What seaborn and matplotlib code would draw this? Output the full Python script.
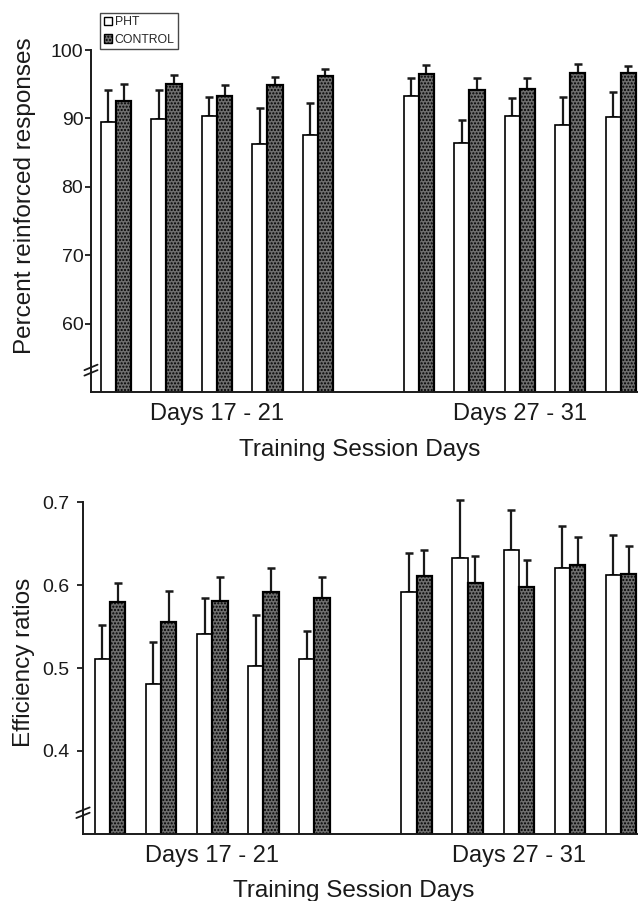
import numpy as np
import pandas as pd
import matplotlib
matplotlib.use("Agg")
import matplotlib.pyplot as plt
from matplotlib.patches import Patch
from matplotlib.container import BarContainer
import seaborn as sns

# ---------------- data ----------------
days = ['17', '18', '19', '20', '21', '27', '28', '29', '30', '31']
groups = ['PHT', 'CONTROL']
group_labels = ['Days 17 - 21', 'Days 27 - 31']

pht_pct = [89.5, 89.9, 90.3, 86.3, 87.6, 93.3, 86.4, 90.4, 89.0, 90.2]
pht_pct_err = [4.7, 4.2, 2.9, 5.2, 4.6, 2.6, 3.3, 2.6, 4.1, 3.7]
ctrl_pct = [92.6, 95.1, 93.3, 94.9, 96.2, 96.5, 94.2, 94.3, 96.7, 96.6]
ctrl_pct_err = [2.5, 1.3, 1.6, 1.1, 1.0, 1.35, 1.7, 1.6, 1.2, 1.0]

pht_eff = [0.511, 0.481, 0.541, 0.502, 0.511, 0.591, 0.632, 0.642, 0.621, 0.612]
pht_eff_err = [0.041, 0.050, 0.043, 0.062, 0.033, 0.047, 0.070, 0.048, 0.050, 0.048]
ctrl_eff = [0.579, 0.555, 0.581, 0.591, 0.584, 0.611, 0.603, 0.598, 0.624, 0.613]
ctrl_eff_err = [0.023, 0.038, 0.029, 0.030, 0.026, 0.031, 0.032, 0.032, 0.034, 0.034]

pct_ticks = [60, 70, 80, 90, 100]
eff_ticks = [0.4, 0.5, 0.6, 0.7]

# ---------------- style ----------------
sns.set_style('ticks')
plt.rcParams['font.family'] = ['Liberation Sans', 'DejaVu Sans']
plt.rcParams['hatch.linewidth'] = 1.0

CTRL_FACE = '#6e6e6e'
INK = '#1a1a1a'
order = days[:5] + [''] + days[5:]

fig = plt.figure(figsize=(6.38, 9.01), dpi=100)
ax1 = fig.add_axes([0.1426, 0.5649, 0.8574, 0.3796])
ax2 = fig.add_axes([0.1301, 0.0744, 0.8699, 0.3684])


def panel(ax, pht, pht_err, ctrl, ctrl_err, ylim, yticks, ylabel, xlim, ylab_xy,
          tick_fmt, ypad, xlab_xy):
    df = pd.DataFrame({
        'day': days * 2,
        'group': [groups[0]] * len(days) + [groups[1]] * len(days),
        'value': list(pht) + list(ctrl),
    })
    sns.barplot(data=df, x='day', y='value', hue='group', order=order,
                hue_order=groups, width=0.6, dodge=True, errorbar=None,
                palette=['white', CTRL_FACE], edgecolor='black',
                linewidth=1.2, legend=False, ax=ax, saturation=1)
    errs = [pht_err, ctrl_err]
    vals = [pht, ctrl]
    bar_conts = [c for c in list(ax.containers) if isinstance(c, BarContainer)]
    for k, cont in enumerate(bar_conts):
        bars = sorted(list(cont.patches), key=lambda b: b.get_x())
        xs = [b.get_x() + b.get_width() / 2 for b in bars]
        for b in bars:
            b.set_zorder(2)
            if k == 1:
                b.set_hatch('.....')
                b.set_linewidth(1.6)
        eb = ax.errorbar(xs, vals[k], yerr=[np.zeros(len(xs)), errs[k]], fmt='none',
                         ecolor=INK, elinewidth=1.6, capsize=3.2, capthick=1.8,
                         zorder=1)
        for art in eb.get_children():
            art.set_clip_on(False)
    ax.set_ylim(*ylim)
    ax.set_xlim(*xlim)
    ax.set_yticks(yticks)
    ax.set_yticklabels([tick_fmt(t) for t in yticks])
    ax.set_xticks([order.index('19'), order.index('29')])
    ax.set_xticklabels(group_labels, fontsize=17)
    ax.tick_params(axis='x', length=0, pad=8, colors=INK)
    ax.tick_params(axis='y', length=4.5, width=1.3, labelsize=14, pad=ypad, colors=INK)
    ax.set_xlabel('Training Session Days', fontsize=17.5, color=INK)
    ax.xaxis.set_label_coords(*xlab_xy)
    ax.set_ylabel(ylabel, fontsize=17.5, color=INK)
    ax.yaxis.set_label_coords(*ylab_xy)
    for s in ['top', 'right']:
        ax.spines[s].set_visible(False)
    for s in ['left', 'bottom']:
        ax.spines[s].set_linewidth(1.4)
        ax.spines[s].set_color(INK)
        ax.spines[s].set_zorder(3)
    # axis break mark
    for dy in (-0.008, 0.008):
        ax.plot([-0.012, 0.012], [0.064 + dy - 0.008, 0.064 + dy + 0.008],
                transform=ax.transAxes, color=INK, lw=1.3, clip_on=False, zorder=4)


panel(ax1, pht_pct, pht_pct_err, ctrl_pct, ctrl_pct_err, (50, 100), pct_ticks,
      'Percent reinforced responses', (-0.495, 10.34), (-0.1, 0.573),
      lambda t: f'{t:d}', 1, (0.492, -0.138))
panel(ax2, pht_eff, pht_eff_err, ctrl_eff, ctrl_eff_err, (0.3, 0.7), eff_ticks,
      'Efficiency ratios', (-0.528, 10.33), (-0.086, 0.518),
      lambda t: f'{t:.1f}', 5, (0.488, -0.138))

handles = [Patch(facecolor='white', edgecolor='black', linewidth=1.0, label=groups[0]),
           Patch(facecolor=CTRL_FACE, edgecolor='black', linewidth=1.0, hatch='.....',
                 label=groups[1])]
leg = fig.legend(handles=handles, loc='upper left', bbox_to_anchor=(0.157, 0.986),
                 fontsize=8.8, frameon=True, fancybox=False, handlelength=0.7,
                 handleheight=0.7, handletextpad=0.2, labelspacing=0.45,
                 borderpad=0.3, borderaxespad=0)
leg.get_frame().set_edgecolor(INK)
leg.get_frame().set_linewidth(1.0)

fig.savefig('out.png', dpi=100)
